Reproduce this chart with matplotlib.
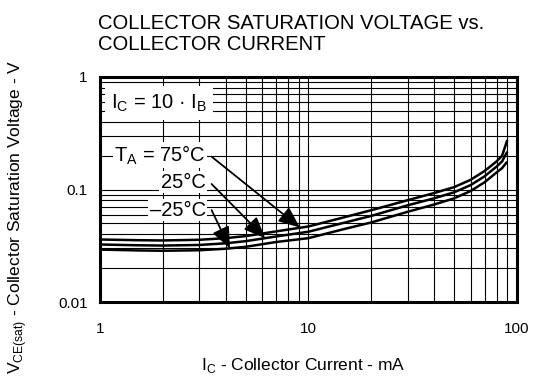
import matplotlib
matplotlib.use('Agg')
import matplotlib.pyplot as plt
from matplotlib.ticker import FixedLocator, FixedFormatter, LogLocator, NullFormatter

plt.rcParams['font.family'] = ['Liberation Sans', 'DejaVu Sans']
plt.rcParams['mathtext.fontset'] = 'custom'
plt.rcParams['mathtext.rm'] = 'Liberation Sans'

# collector current (mA) and VCE(sat) (V)
ic = [1, 1.5, 2, 3, 4, 5, 7, 10, 15, 20, 30, 40, 50, 60, 70, 80, 85, 90]
v_75 = [0.036, 0.0355, 0.0353, 0.0358, 0.0370, 0.0386, 0.0425, 0.0470, 0.0570, 0.0655,
        0.0805, 0.0930, 0.1050, 0.1220, 0.1460, 0.1780, 0.200, 0.275]
v_25 = [0.0325, 0.032, 0.0318, 0.0322, 0.0333, 0.0348, 0.0383, 0.0422, 0.0510, 0.0583,
        0.0725, 0.0835, 0.0945, 0.1095, 0.1310, 0.1600, 0.178, 0.217]
v_m25 = [0.0293, 0.0288, 0.0286, 0.0289, 0.0298, 0.0310, 0.0342, 0.0370, 0.0448, 0.0510,
         0.0635, 0.0735, 0.0835, 0.0970, 0.1160, 0.1420, 0.155, 0.177]

xticks = [1, 10, 100]
xticklabels = ['1', '10', '100']
yticks = [0.01, 0.1, 1]
yticklabels = ['0.01', '0.1', '1']

# temperature labels and where their arrows point
temp_labels = ['T$_\\mathregular{A}$ = 75°C', '25°C', '\u201325°C']
label_y = [0.203, 0.1166, 0.0657]
arrow_from_y = [0.196, 0.112, 0.0657]
arrow_to = [(9.1, 0.046), (6.2, 0.037), (4.2, 0.030)]

fig = plt.figure(figsize=(5.35, 3.81), dpi=100)
ax = fig.add_axes([0.187, 0.207, 0.779, 0.591])

for v in (v_75, v_25, v_m25):
    ax.plot(ic, v, color='black', lw=1.8, solid_capstyle='butt')

ax.set_xscale('log')
ax.set_yscale('log')
ax.set_xlim(1, 100)
ax.set_ylim(0.01, 1)

ax.xaxis.set_major_locator(FixedLocator(xticks))
ax.xaxis.set_major_formatter(FixedFormatter(xticklabels))
ax.yaxis.set_major_locator(FixedLocator(yticks))
ax.yaxis.set_major_formatter(FixedFormatter(yticklabels))
ax.xaxis.set_minor_locator(LogLocator(base=10, subs=range(2, 10)))
ax.yaxis.set_minor_locator(LogLocator(base=10, subs=range(2, 10)))
ax.xaxis.set_minor_formatter(NullFormatter())
ax.yaxis.set_minor_formatter(NullFormatter())
ax.tick_params(which='both', length=0, labelsize=11)
ax.tick_params(axis='x', pad=14)
ax.tick_params(axis='y', pad=9)

ax.set_axisbelow(True)
ax.grid(which='both', color='black', lw=0.8)
for s in ax.spines.values():
    s.set_linewidth(2.2)

ax.text(1.13, 0.587, 'I$_\\mathregular{C}$ = 10 · I$_\\mathregular{B}$', fontsize=14.5,
        ha='left', va='center',
        bbox=dict(boxstyle='square,pad=0.3', fc='white', ec='none'))

for lab, ly, ay, tip in zip(temp_labels, label_y, arrow_from_y, arrow_to):
    ax.text(3.22, ly, lab, fontsize=14.5, ha='right', va='center',
            bbox=dict(boxstyle='square,pad=0.08', fc='white', ec='none'))
    ax.annotate('', xy=tip, xytext=(3.43, ay),
                arrowprops=dict(arrowstyle='-|>,head_length=1.3,head_width=0.55',
                                color='black', lw=1.3, shrinkA=0, shrinkB=0,
                                mutation_scale=10))

ax.set_xlabel('I$_\\mathregular{C}$ - Collector Current - mA', fontsize=12.5, va='center')
ax.xaxis.set_label_coords(0.488, -0.28)
ax.set_ylabel('V$_\\mathregular{CE(sat)}$ - Collector Saturation Voltage - V', fontsize=12.5,
              va='center')
ax.yaxis.set_label_coords(-0.197, 0.378)

fig.text(0.183, 0.924, 'COLLECTOR SATURATION VOLTAGE vs.', fontsize=14.6, va='baseline')
fig.text(0.183, 0.869, 'COLLECTOR CURRENT', fontsize=14.6, va='baseline')

fig.savefig('out.png', dpi=100)
